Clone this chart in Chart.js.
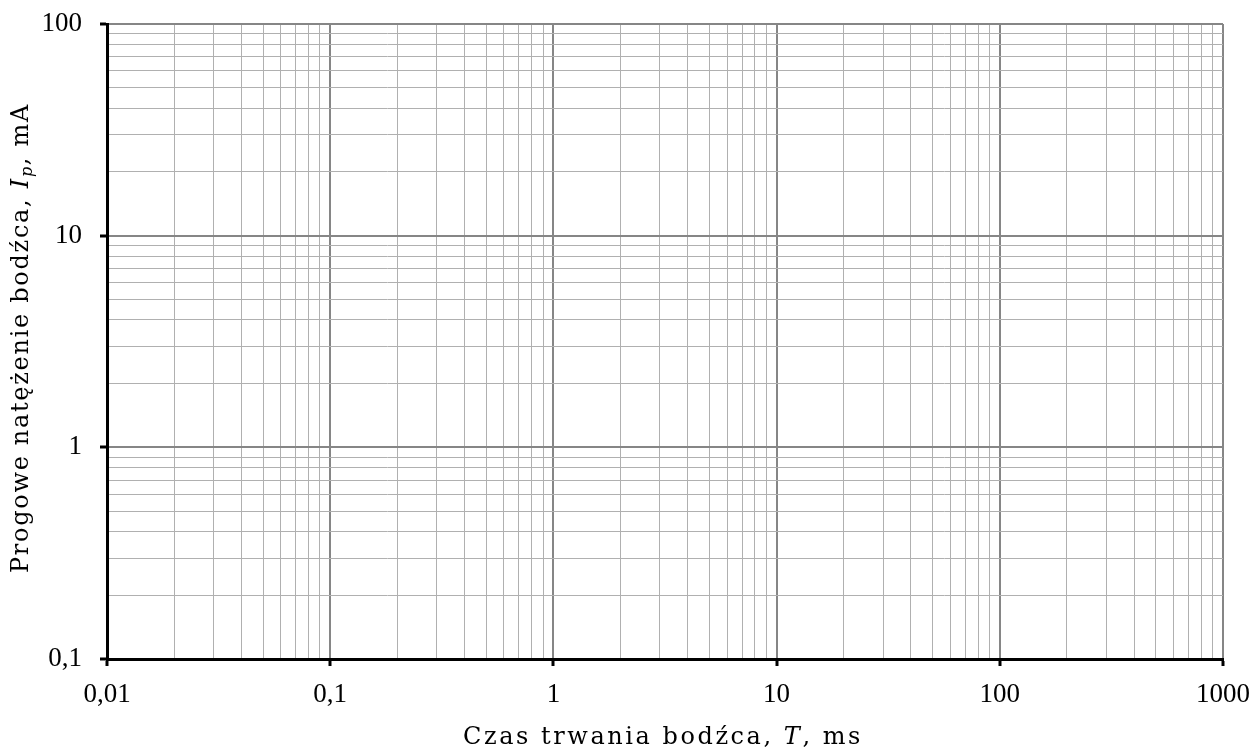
<!DOCTYPE html>
<html>
<head>
  <meta charset="utf-8">
  <title>Próg pobudliwości</title>
  <script src="https://cdn.jsdelivr.net/npm/chart.js"></script>
  <style>
    html, body { margin: 0; padding: 0; background: #fff; }
    #wrap { width: 1254px; height: 753px; }
  </style>
</head>
<body>
  <div id="wrap"><canvas id="chart" width="1254" height="753"></canvas></div>

  <script>
    // dekady osi (log-log), czasy w ms i prądy w mA
    const xMajor = [0.01, 0.1, 1, 10, 100, 1000];
    const yMajor = [0.1, 1, 10, 100];
    const minorSteps = [2, 3, 4, 5, 6, 7, 8, 9];
    const xTitle = 'Czas trwania bodźca, ';
    const yTitle = 'Progowe natężenie bodźca, ';

    const SERIF = '"Liberation Serif", "DejaVu Serif", serif';
    const TITLE_FONT = '"DejaVu Serif", serif';

    function logTicks(majors) {
      const out = [];
      majors.forEach((m, i) => {
        out.push({ value: m, major: true });
        if (i < majors.length - 1) minorSteps.forEach(s => out.push({ value: +(m * s).toPrecision(3), major: false }));
      });
      return out;
    }
    const isMajor = v => xMajor.includes(v) || yMajor.includes(v);

    function axis(majors, pad) {
      return {
        type: 'logarithmic',
        min: majors[0],
        max: majors[majors.length - 1],
        afterBuildTicks: s => { s.ticks = logTicks(majors); },
        border: { color: '#000', width: 3 },
        grid: {
          color: c => c.tick && c.tick.major ? '#868686' : '#b0b0b0',
          lineWidth: c => c.tick && c.tick.major ? 2 : 1,
          tickColor: c => c.tick && c.tick.major ? '#000' : 'rgba(0,0,0,0)',
          tickWidth: 3,
          tickLength: 7
        },
        ticks: {
          autoSkip: false,
          maxRotation: 0,
          padding: pad,
          color: '#000',
          font: { family: SERIF, size: 27 },
          callback: v => isMajor(v) ? String(v).replace('.', ',') : ''
        }
      };
    }

    // tytuły osi z kursywą (T, I_p) rysowane ręcznie, rozstrzelone do zadanej szerokości
    function drawParts(ctx, parts, x, y, width) {
      const fonts = parts.map(p => (p.it ? 'italic ' : '') + (p.sub ? 16 : 24) + 'px ' + TITLE_FONT);
      ctx.letterSpacing = '0px';
      let total = 0, n = 0;
      parts.forEach((p, i) => { ctx.font = fonts[i]; total += ctx.measureText(p.t).width; n += p.t.length; });
      const sp = Math.max(0, (width - total) / n);
      ctx.letterSpacing = sp + 'px';
      let cx = x - width / 2;
      parts.forEach((p, i) => {
        ctx.font = fonts[i];
        ctx.fillText(p.t, cx, y + (p.sub ? 6 : 0));
        cx += ctx.measureText(p.t).width;
      });
    }

    const titles = {
      id: 'titles',
      afterDraw(chart) {
        const ctx = chart.ctx;
        ctx.save();
        ctx.fillStyle = '#000';
        ctx.textBaseline = 'middle';
        ctx.textAlign = 'left';
        drawParts(ctx, [{ t: xTitle }, { t: 'T', it: true }, { t: ', ms' }], 663, 738, 400);
        ctx.translate(22, 338);
        ctx.rotate(-Math.PI / 2);
        drawParts(ctx, [{ t: yTitle }, { t: 'I', it: true }, { t: 'p', it: true, sub: true }, { t: ', mA' }], 0, 0, 470);
        ctx.restore();
      }
    };

    new Chart(document.getElementById('chart'), {
      type: 'scatter',
      data: { datasets: [{ data: [] }] },
      options: {
        responsive: false,
        animation: false,
        layout: { padding: { top: 24, right: 31, left: 0, bottom: 0 } },
        plugins: { legend: { display: false }, tooltip: { enabled: false } },
        scales: {
          x: Object.assign(axis(xMajor, 13), { afterFit: s => { s.height = 94; s.paddingLeft = 0; s.paddingRight = 0; } }),
          y: Object.assign(axis(yMajor, 18), { afterFit: s => { s.width = 107; s.paddingTop = 0; s.paddingBottom = 0; } })
        }
      },
      plugins: [titles]
    });
  </script>
</body>
</html>
